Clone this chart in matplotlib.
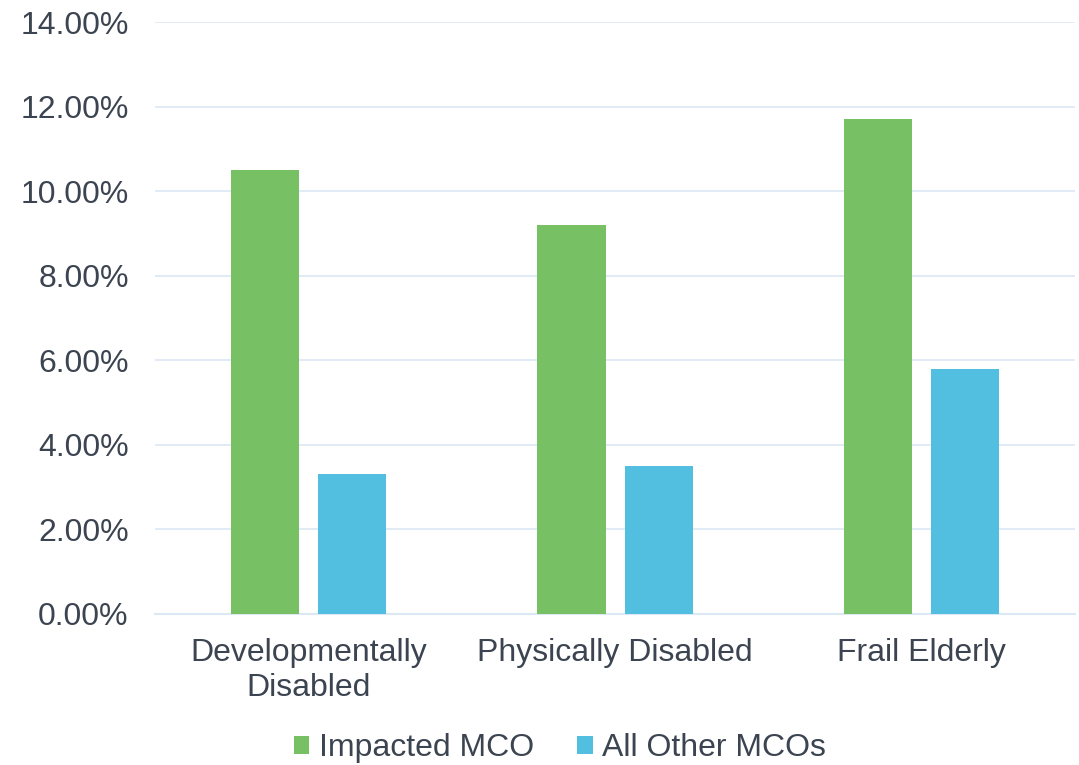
import numpy as np
import matplotlib.pyplot as plt
from matplotlib.ticker import FuncFormatter

plt.rcParams['font.family'] = ['Liberation Sans', 'DejaVu Sans']

categories = ["Developmentally\nDisabled", "Physically Disabled", "Frail Elderly"]
impacted = [10.5, 9.2, 11.7]
others = [3.3, 3.5, 5.8]

green = "#77C063"
blue = "#52BFE1"
text_col = "#3B4450"
line_col = "#DCE8F3"

fig = plt.figure(figsize=(10.79, 7.65), dpi=100)
ax = fig.add_axes([0.1437, 0.1974, 0.8526, 0.7738])

x = np.arange(len(categories))
w = 0.222
off = 0.142
ax.bar(x - off, impacted, w, color=green, label="Impacted MCO", zorder=3)
ax.bar(x + off, others, w, color=blue, label="All Other MCOs", zorder=3)

ax.set_xlim(-0.5, 2.5)
ax.set_ylim(0, 14)
ax.set_yticks(np.arange(0, 15, 2))
ax.yaxis.set_major_formatter(FuncFormatter(lambda v, p: f"{v:.2f}%"))
ax.set_xticks(x)
ax.set_xticklabels(categories, linespacing=1.22)
ax.grid(axis='y', color=line_col, linewidth=1.2, zorder=0)

for s in ['top', 'right', 'left']:
    ax.spines[s].set_visible(False)
ax.spines['bottom'].set_color(line_col)
ax.spines['bottom'].set_linewidth(1.5)
ax.tick_params(axis='both', length=0, labelsize=23, colors=text_col)
ax.tick_params(axis='y', pad=19)
ax.tick_params(axis='x', pad=17)

fig.legend(loc='center', bbox_to_anchor=(0.519, 0.022), ncol=2, frameon=False,
           fontsize=23, labelcolor=text_col, handlelength=0.48, handleheight=0.48,
           handletextpad=0.3, columnspacing=1.35)

fig.savefig("out.png", dpi=100)
